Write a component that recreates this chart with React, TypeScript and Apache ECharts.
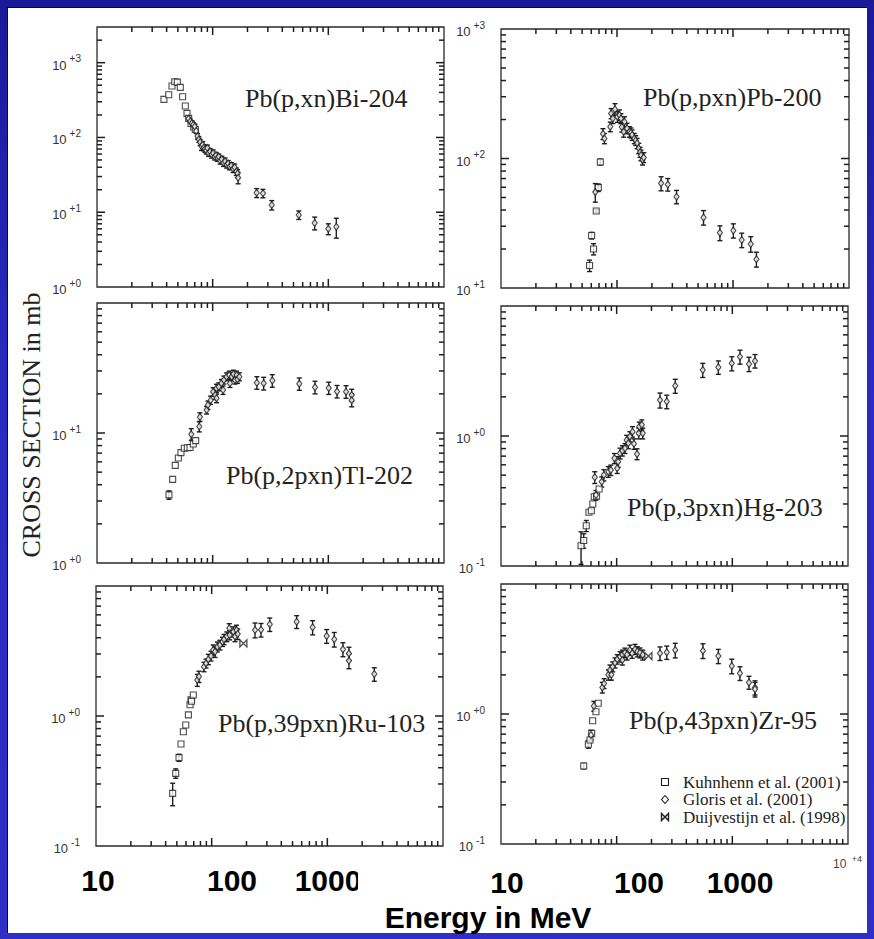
import React, { useEffect, useRef } from "react";
import * as echarts from "echarts";

// ---------- axis ranges & labels ----------
const X_MIN = 10;
const X_MAX = 10000;
const yMins = [1, 10, 1, 0.1, 0.1, 0.1];
const yMaxs = [3000, 1000, 100, 10, 10, 10];
const yLabelDecades = [[0, 1, 2, 3], [1, 2, 3], [0, 1], [-1, 0], [-1, 0], [-1, 0]];
const xTickLabels = ["10", "100", "1000"];
const panelTitles = [
  "Pb(p,xn)Bi-204",
  "Pb(p,pxn)Pb-200",
  "Pb(p,2pxn)Tl-202",
  "Pb(p,3pxn)Hg-203",
  "Pb(p,39pxn)Ru-103",
  "Pb(p,43pxn)Zr-95",
];
const legendLabels = ["Kuhnhenn et al. (2001)", "Gloris et al. (2001)", "Duijvestijn et al. (1998)"];

// ---------- data: [energy MeV, cross section mb, error] ----------
const bi204Kuhnhenn = [[37.9, 323], [41.7, 372], [44.5, 487], [47, 555], [49.5, 550], [52.5, 468], [55, 350], [58, 263], [60, 210], [62, 180], [65, 154], [68.5, 138], [70.8, 128]];
const bi204Gloris = [
  [62, 178, 10], [64, 165, 10], [66, 155, 10], [68, 148, 10], [70, 140, 10], [72, 122, 9], [74, 104, 9], [76, 94, 8],
  [78, 86, 8], [80, 76, 9], [82, 80, 8], [84, 73, 7], [86, 70, 7], [88, 67, 7], [90, 72, 7], [92, 62, 6], [95, 65, 6],
  [98, 59, 6], [101, 62, 6], [104, 55, 5], [107, 58, 5], [110, 53, 5], [113, 55, 5], [116, 49, 5], [120, 51, 5],
  [124, 46, 5], [128, 48, 5], [132, 43, 4], [136, 45, 4], [140, 41, 4], [145, 42, 4], [150, 38, 4], [155, 40, 4],
  [160, 35, 4], [164, 33, 4], [166, 29, 5],
  [240, 18.2, 2.5], [272, 17.9, 2.3], [324, 12.5, 1.8], [555, 9.2, 1.2], [762, 7.2, 1.4], [1000, 6.0, 1.0], [1172, 6.4, 1.9],
];
const bi204Duijvestijn: number[][] = [];

const pb200Kuhnhenn = [[58, 14.9, 1.5], [60.4, 25.4, 1.5], [62.8, 20, 2], [66.2, 39.3, 1], [69, 59.6, 4], [71.8, 94, 5]];
const pb200Gloris = [
  [65, 55, 9], [75.7, 155, 15], [77.9, 143, 13], [87.5, 176, 15], [89, 223, 20], [92, 204, 18], [96, 240, 25],
  [101, 210, 20], [105, 217, 20], [108, 204, 18], [110, 175, 15], [114, 161, 15], [116, 192, 18], [122, 171, 16],
  [128, 161, 15], [132, 158, 14], [135, 152, 14], [141, 143, 13], [145, 138, 12], [149, 131, 12], [154, 120, 11],
  [158, 112, 10], [161, 106, 10], [166, 98, 9], [170, 102, 9],
  [240, 64.3, 8], [274, 63, 7], [326, 50.7, 6], [557, 35.1, 4.5], [771, 26.7, 3.5], [1007, 27.8, 3.5], [1189, 23.5, 3],
  [1422, 21.9, 3], [1592, 16.7, 2.2],
];
const pb200Duijvestijn: number[][] = [];

const tl202Kuhnhenn = [[41.9, 3.34, 0.25], [45.1, 4.4], [47.5, 5.64], [50.5, 6.42], [53.2, 7.06], [56.9, 7.63], [60.4, 7.7], [63.7, 7.74], [68, 8.23], [71.3, 8.73]];
const tl202Gloris = [
  [65.3, 9.8, 1], [76.6, 11.2, 1], [77.6, 13.3, 1], [88.7, 15, 1], [91, 16.4, 1.2], [96, 17.9, 1.3], [101, 20.8, 1.5],
  [105, 19.6, 1.5], [108, 22.1, 1.6], [108, 18.5, 1.4], [113, 22.7, 1.6], [119, 24.1, 1.7], [123, 21.4, 1.6],
  [125, 25.6, 1.8], [132, 27.1, 1.9], [139, 27.9, 2], [141, 24.1, 1.7], [146, 27.1, 1.9], [151, 28.4, 2],
  [156, 25.6, 1.8], [161, 27.9, 2], [164, 25.9, 1.8], [170, 27.1, 1.9],
  [241, 24.4, 2.7], [276, 24.1, 2.7], [328, 25.3, 2.8], [561, 23.9, 2.6], [767, 22.5, 2.5], [1007, 22.2, 2.4],
  [1189, 20.9, 2.3], [1422, 20.8, 2.3], [1592, 19.6, 2.1], [1592, 17.9, 2],
];
const tl202Duijvestijn: number[][] = [];

const hg203Kuhnhenn = [[49.2, 0.143, 0.04], [51.9, 0.157, 0.02], [54.6, 0.204, 0.02], [57.6, 0.259], [60.4, 0.266], [62.2, 0.3], [64, 0.341], [67, 0.345], [70.5, 0.391]];
const hg203Gloris = [
  [64.6, 0.481, 0.05], [66.2, 0.351, 0.03], [74.3, 0.445, 0.04], [77.5, 0.501, 0.05], [84.7, 0.531, 0.05],
  [89, 0.547, 0.05], [95.6, 0.673, 0.06], [101, 0.565, 0.05], [103, 0.634, 0.06], [107, 0.736, 0.07],
  [112, 0.771, 0.07], [118, 0.804, 0.07], [122, 0.932, 0.08], [126, 0.879, 0.08], [130, 0.99, 0.09],
  [137, 1.08, 0.1], [141, 0.87, 0.08], [150, 0.727, 0.07], [155, 1.05, 0.1], [157, 1.18, 0.1], [165, 1.22, 0.11],
  [168, 1.05, 0.1],
  [237, 1.89, 0.25], [271, 1.84, 0.22], [321, 2.43, 0.3], [555, 3.22, 0.4], [757, 3.38, 0.4], [989, 3.62, 0.45],
  [1164, 4.07, 0.5], [1393, 3.58, 0.45], [1570, 3.78, 0.45],
];
const hg203Duijvestijn: number[][] = [];

const ru103Kuhnhenn = [[46, 0.254, 0.05], [48.9, 0.362, 0.03], [52.2, 0.478, 0.03], [54.3, 0.609], [56.9, 0.757], [59.7, 0.853], [62.9, 1.02], [65, 1.22], [66.3, 1.33], [67, 1.3], [69.4, 1.45]];
const ru103Gloris = [
  [75.1, 1.89, 0.2], [77.6, 2.01, 0.2], [85.8, 2.39, 0.2], [89.4, 2.54, 0.2], [93.6, 2.73, 0.25], [98.7, 2.9, 0.25],
  [103, 3.22, 0.3], [107, 3.12, 0.3], [112, 3.41, 0.3], [118, 3.52, 0.3], [124, 3.73, 0.3], [128, 3.89, 0.35],
  [135, 4.08, 0.35], [142, 4.73, 0.4], [143, 4.2, 0.35], [154, 4.45, 0.4], [159, 4.08, 0.35], [164, 4.59, 0.4],
  [168, 4.27, 0.4],
  [237, 4.59, 0.6], [267, 4.6, 0.55], [318, 5.07, 0.6], [543, 5.31, 0.6], [746, 4.81, 0.6], [986, 4.12, 0.5],
  [1148, 3.89, 0.5], [1365, 3.26, 0.4], [1538, 3.03, 0.35], [1538, 2.66, 0.35], [2547, 2.1, 0.25],
];
const ru103Duijvestijn = [[188, 3.62]];

const zr95Kuhnhenn = [[51.9, 0.398, 0.02], [56.9, 0.585, 0.04], [58.8, 0.631], [60.8, 0.709], [62, 0.888], [66.2, 1.04], [69.3, 1.21]];
const zr95Gloris = [
  [60, 0.69, 0.06], [63.5, 1.15, 0.1], [75.2, 1.6, 0.15], [77.8, 1.72, 0.15], [84.8, 2.0, 0.18], [87.5, 2.18, 0.2],
  [90, 2.0, 0.18], [92.4, 2.31, 0.2], [96.8, 2.48, 0.22], [101, 2.64, 0.22], [107, 2.76, 0.25], [112, 2.85, 0.25],
  [112, 2.6, 0.22], [118, 2.96, 0.25], [123, 2.85, 0.25], [130, 3.1, 0.28], [136, 2.93, 0.25], [144, 3.15, 0.28],
  [151, 3.02, 0.27], [159, 2.96, 0.26], [168, 2.85, 0.25],
  [237, 2.93, 0.35], [271, 2.98, 0.35], [321, 3.1, 0.4], [557, 3.07, 0.4], [757, 2.79, 0.35], [989, 2.34, 0.3],
  [1164, 2.06, 0.25], [1393, 1.75, 0.2], [1570, 1.6, 0.2], [1570, 1.55, 0.2],
];
const zr95Duijvestijn = [[188, 2.79]];

const kuhnhennSets = [bi204Kuhnhenn, pb200Kuhnhenn, tl202Kuhnhenn, hg203Kuhnhenn, ru103Kuhnhenn, zr95Kuhnhenn];
const glorisSets = [bi204Gloris, pb200Gloris, tl202Gloris, hg203Gloris, ru103Gloris, zr95Gloris];
const duijvestijnSets = [bi204Duijvestijn, pb200Duijvestijn, tl202Duijvestijn, hg203Duijvestijn, ru103Duijvestijn, zr95Duijvestijn];

// ---------- layout (pixels) ----------
const GRID_BOXES = [
  { left: 97, top: 27, width: 347, height: 260 },
  { left: 501, top: 29, width: 348, height: 259 },
  { left: 97, top: 303, width: 347, height: 260 },
  { left: 501, top: 306, width: 347, height: 260 },
  { left: 96, top: 586, width: 347, height: 260 },
  { left: 501, top: 584, width: 347, height: 260 },
];
const TITLE_POS = [[245, 98], [643, 97], [226, 475], [627, 507], [218, 723], [629, 720]];
const XLABEL_POS = [[98, 880], [232, 880], [328, 880], [507, 882], [639, 882], [740, 882]];

const INK = "#1e1e1e";
const BOWTIE = "path://M0,0L0,10L10,0L10,10Z";
const MAJOR_LEN = 8;
const MINOR_LEN = 5;
const TICK_STYLE = { stroke: "#1e1e1e", lineWidth: 1.5 };

const K_ERR = 0;
const K_XTICK = 1;
const K_YTICK = 2;

// overlay rows: error bars [x, y, err, K_ERR] and scale ticks [x, y, major, kind]
function buildOverlayData(i: number) {
  const ymin = yMins[i];
  const ymax = yMaxs[i];
  const ymid = Math.sqrt(ymin * ymax);
  const rows: number[][] = [];
  [...kuhnhennSets[i], ...glorisSets[i]].forEach((p) => {
    if (p.length >= 3) rows.push([p[0], p[1], p[2], K_ERR]);
  });
  for (let d = 1; d <= 4; d++) {
    for (let k = 1; k <= 9; k++) {
      const v = k * Math.pow(10, d);
      if (v > X_MIN * 1.0001 && v < X_MAX * 0.9999) rows.push([v, ymid, k === 1 ? 1 : 0, K_XTICK]);
    }
  }
  const dlo = Math.floor(Math.log10(ymin));
  const dhi = Math.ceil(Math.log10(ymax));
  for (let d = dlo; d <= dhi; d++) {
    for (let k = 1; k <= 9; k++) {
      const v = k * Math.pow(10, d);
      if (v > ymin * 1.0001 && v < ymax * 0.9999) rows.push([100, v, k === 1 ? 1 : 0, K_YTICK]);
    }
  }
  return rows;
}

function buildOption() {
  const grid: any[] = [];
  const xAxis: any[] = [];
  const yAxis: any[] = [];
  const series: any[] = [];
  const graphic: any[] = [];

  GRID_BOXES.forEach((box, i) => {
    const ymin = yMins[i];
    const ymax = yMaxs[i];
    const decades = yLabelDecades[i];
    grid.push({ ...box, show: true, borderColor: "#2a2a2a", borderWidth: 1.3, backgroundColor: "transparent" });
    xAxis.push({
      type: "log", logBase: 10, gridIndex: i, min: X_MIN, max: X_MAX,
      axisLine: { show: false }, axisTick: { show: false }, axisLabel: { show: false }, splitLine: { show: false },
    });
    yAxis.push({
      type: "log", logBase: 10, gridIndex: i, min: ymin, max: ymax,
      axisLine: { show: false }, axisTick: { show: false }, splitLine: { show: false },
      axisLabel: {
        show: true, margin: 16, showMinLabel: true, showMaxLabel: true,
        formatter: (v: number) => {
          const lg = Math.log10(v);
          const e = Math.round(lg);
          if (Math.abs(lg - e) > 1e-6 || decades.indexOf(e) < 0) return "";
          const s = e >= 0 ? "+" + e : "-" + Math.abs(e);
          return "{b|10}{s|" + s + "}";
        },
        rich: {
          b: { fontSize: 13, fontFamily: "Liberation Sans", color: "#333", lineHeight: 18, verticalAlign: "bottom" },
          s: { fontSize: 10, fontFamily: "Liberation Sans", color: "#333", lineHeight: 10, verticalAlign: "top", padding: [0, 0, 0, 3] },
        },
      },
    });

    // overlay: error bars + tick marks on all four sides
    series.push({
      type: "custom", xAxisIndex: i, yAxisIndex: i, silent: true, z: 2, clip: false,
      encode: { x: 0, y: 1 },
      data: buildOverlayData(i),
      renderItem: (params: any, api: any) => {
        const x = api.value(0);
        const y = api.value(1);
        const a = api.value(2);
        const kind = api.value(3);
        if (kind === K_XTICK) {
          const len = a ? MAJOR_LEN : MINOR_LEN;
          const b = api.coord([x, ymin]);
          const t = api.coord([x, ymax]);
          return {
            type: "group", children: [
              { type: "line", shape: { x1: b[0], y1: b[1], x2: b[0], y2: b[1] - len }, style: TICK_STYLE },
              { type: "line", shape: { x1: t[0], y1: t[1], x2: t[0], y2: t[1] + len }, style: TICK_STYLE },
            ],
          };
        }
        if (kind === K_YTICK) {
          const len = a ? MAJOR_LEN : MINOR_LEN;
          const l = api.coord([X_MIN, y]);
          const r = api.coord([X_MAX, y]);
          return {
            type: "group", children: [
              { type: "line", shape: { x1: l[0], y1: l[1], x2: l[0] + len, y2: l[1] }, style: TICK_STYLE },
              { type: "line", shape: { x1: r[0], y1: r[1], x2: r[0] - len, y2: r[1] }, style: TICK_STYLE },
            ],
          };
        }
        const lo = api.coord([x, Math.max(y - a, ymin * 1.001)]);
        const hi = api.coord([x, y + a]);
        const c = 2.5;
        const st = { stroke: INK, lineWidth: 1.4 };
        return {
          type: "group", children: [
            { type: "line", shape: { x1: lo[0], y1: lo[1], x2: hi[0], y2: hi[1] }, style: st },
            { type: "line", shape: { x1: lo[0] - c, y1: lo[1], x2: lo[0] + c, y2: lo[1] }, style: st },
            { type: "line", shape: { x1: hi[0] - c, y1: hi[1], x2: hi[0] + c, y2: hi[1] }, style: st },
          ],
        };
      },
    });

    series.push({
      type: "scatter", name: legendLabels[0], xAxisIndex: i, yAxisIndex: i, z: 3,
      symbol: "rect", symbolSize: 6, encode: { x: 0, y: 1 },
      itemStyle: { color: "#fff", borderColor: INK, borderWidth: 1.1 },
      data: kuhnhennSets[i],
    });
    series.push({
      type: "scatter", name: legendLabels[1], xAxisIndex: i, yAxisIndex: i, z: 4,
      symbol: "diamond", symbolSize: [5, 7], encode: { x: 0, y: 1 },
      itemStyle: { color: "#fff", borderColor: INK, borderWidth: 1.2 },
      data: glorisSets[i],
    });
    if (duijvestijnSets[i].length) {
      series.push({
        type: "scatter", name: legendLabels[2], xAxisIndex: i, yAxisIndex: i, z: 4,
        symbol: BOWTIE, symbolSize: 7, encode: { x: 0, y: 1 },
        itemStyle: { color: "#fff", borderColor: INK, borderWidth: 1.3 },
        data: duijvestijnSets[i],
      });
    }

    graphic.push({
      type: "text", x: TITLE_POS[i][0], y: TITLE_POS[i][1], z: 50,
      style: { text: panelTitles[i], font: "26px 'Liberation Serif'", fill: "#222", textAlign: "left", textVerticalAlign: "middle" },
    });
  });

  // bottom big energy labels
  XLABEL_POS.forEach((p, j) => {
    graphic.push({
      type: "text", x: p[0], y: p[1], z: 50,
      style: { text: xTickLabels[j % 3], font: "bold 30px 'Liberation Sans'", fill: "#000", textAlign: "center", textVerticalAlign: "middle" },
    });
  });
  // clip of the left "1000"
  graphic.push({ type: "rect", z: 60, shape: { x: 358, y: 858, width: 40, height: 44 }, style: { fill: "#fff" } });

  graphic.push({
    type: "text", x: 833, y: 862, z: 50,
    style: {
      text: "{b|10}{s| +4}",
      rich: {
        b: { fontSize: 12, fontFamily: "Liberation Sans", fill: "#444", lineHeight: 16, verticalAlign: "bottom" },
        s: { fontSize: 9, fontFamily: "Liberation Sans", fill: "#444", lineHeight: 9, verticalAlign: "top", padding: [0, 0, 0, 3] },
      },
      textAlign: "left", textVerticalAlign: "middle",
    },
  });

  graphic.push({
    type: "text", x: 488, y: 917, z: 50,
    style: { text: "Energy in MeV", font: "bold 30px 'Liberation Sans'", fill: "#000", textAlign: "center", textVerticalAlign: "middle" },
  });
  graphic.push({
    type: "text", x: 31, y: 425, rotation: Math.PI / 2, z: 50,
    style: { text: "CROSS SECTION in mb", font: "26px 'Liberation Serif'", fill: "#222", textAlign: "center", textVerticalAlign: "middle" },
  });

  // legend (in the last panel)
  const ls = { fill: "#fff", stroke: INK, lineWidth: 1.1 };
  graphic.push({ type: "rect", z: 50, shape: { x: 661.5, y: 778.5, width: 7, height: 7 }, style: ls });
  graphic.push({ type: "polygon", z: 50, shape: { points: [[665, 795.5], [668.5, 799.5], [665, 803.5], [661.5, 799.5]] }, style: ls });
  graphic.push({ type: "polygon", z: 50, shape: { points: [[661.5, 813.5], [661.5, 820.5], [668.5, 813.5], [668.5, 820.5]] }, style: { ...ls, lineWidth: 1.4 } });
  [782, 799.5, 817].forEach((y, j) => {
    graphic.push({
      type: "text", x: 683, y, z: 50,
      style: { text: legendLabels[j], font: "17px 'Liberation Serif'", fill: "#222", textAlign: "left", textVerticalAlign: "middle" },
    });
  });

  return { animation: false, backgroundColor: "transparent", grid, xAxis, yAxis, series, graphic };
}

export default function App() {
  const ref = useRef<HTMLDivElement>(null);
  useEffect(() => {
    document.body.style.margin = "0";
    document.body.style.overflow = "hidden";
    const chart = echarts.init(ref.current as HTMLDivElement, undefined, { renderer: "svg" });
    chart.setOption(buildOption() as any);
    return () => chart.dispose();
  }, []);
  return (
    <div style={{ position: "relative", width: 874, height: 939, background: "linear-gradient(180deg,#1a1a98 0%,#2a2ac0 40%,#2f2fc8 100%)" }}>
      <div style={{ position: "absolute", left: 7, top: 7, width: 860, height: 926, background: "#fff", boxShadow: "inset 1px 1px 0 #0a0a40" }} />
      <div ref={ref} style={{ position: "absolute", left: 0, top: 0, width: 874, height: 939 }} />
    </div>
  );
}
